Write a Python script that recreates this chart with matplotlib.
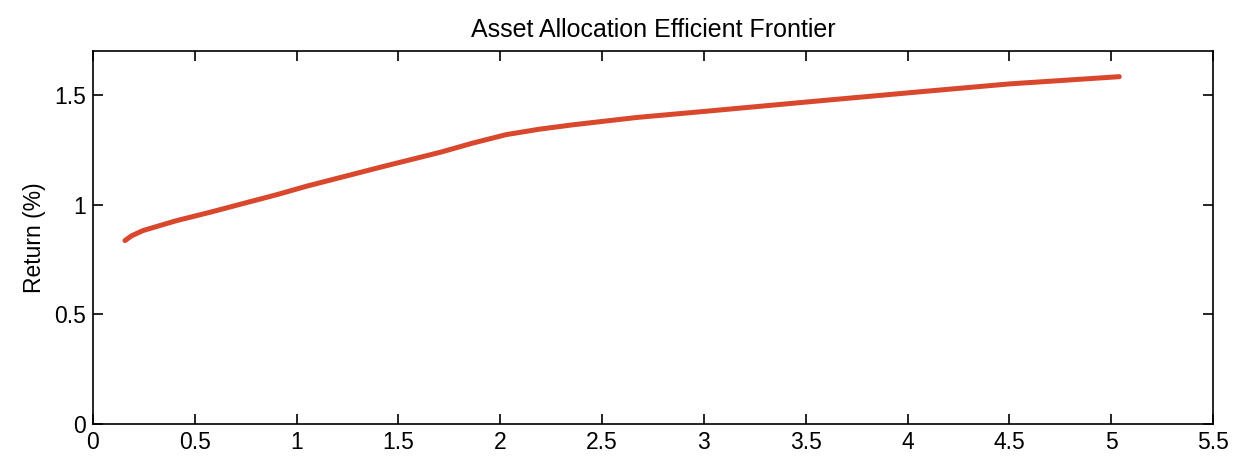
import matplotlib
matplotlib.use('Agg')
import matplotlib.pyplot as plt

# frontier points (risk %, return %)
risk = [0.157, 0.19, 0.247, 0.411, 0.575, 0.738, 0.902, 1.05, 1.41, 1.704, 1.868, 2.03,
        2.195, 2.36, 2.67, 3.03, 3.51, 4.06, 4.50, 5.04]
ret = [0.836, 0.858, 0.882, 0.927, 0.965, 1.005, 1.045, 1.084, 1.170, 1.238, 1.281, 1.319,
       1.344, 1.364, 1.397, 1.427, 1.468, 1.514, 1.550, 1.583]

xticks = [0, 0.5, 1, 1.5, 2, 2.5, 3, 3.5, 4, 4.5, 5, 5.5]
xticklabels = ['0', '0.5', '1', '1.5', '2', '2.5', '3', '3.5', '4', '4.5', '5', '5.5']
yticks = [0, 0.5, 1, 1.5]
yticklabels = ['0', '0.5', '1', '1.5']

plt.rcParams['font.family'] = ['Liberation Sans', 'DejaVu Sans']

fig = plt.figure(figsize=(12.38, 4.67), dpi=100)
ax = fig.add_axes([0.0751, 0.0921, 0.9047, 0.7987])

ax.plot(risk, ret, color='#d9472d', linewidth=3.6, solid_capstyle='round')

ax.set_xlim(0, 5.5)
ax.set_ylim(0, 1.7)
ax.set_xticks(xticks)
ax.set_xticklabels(xticklabels)
ax.set_yticks(yticks)
ax.set_yticklabels(yticklabels)
ax.tick_params(direction='in', length=7, width=1.2, top=True, right=True,
               labelsize=16.5, pad=5)
for s in ax.spines.values():
    s.set_linewidth(1.2)

ax.set_title('Asset Allocation Efficient Frontier', fontsize=18, pad=10)
ax.set_ylabel('Return (%)', fontsize=16.5, labelpad=6)

fig.savefig('out.png', dpi=100)
